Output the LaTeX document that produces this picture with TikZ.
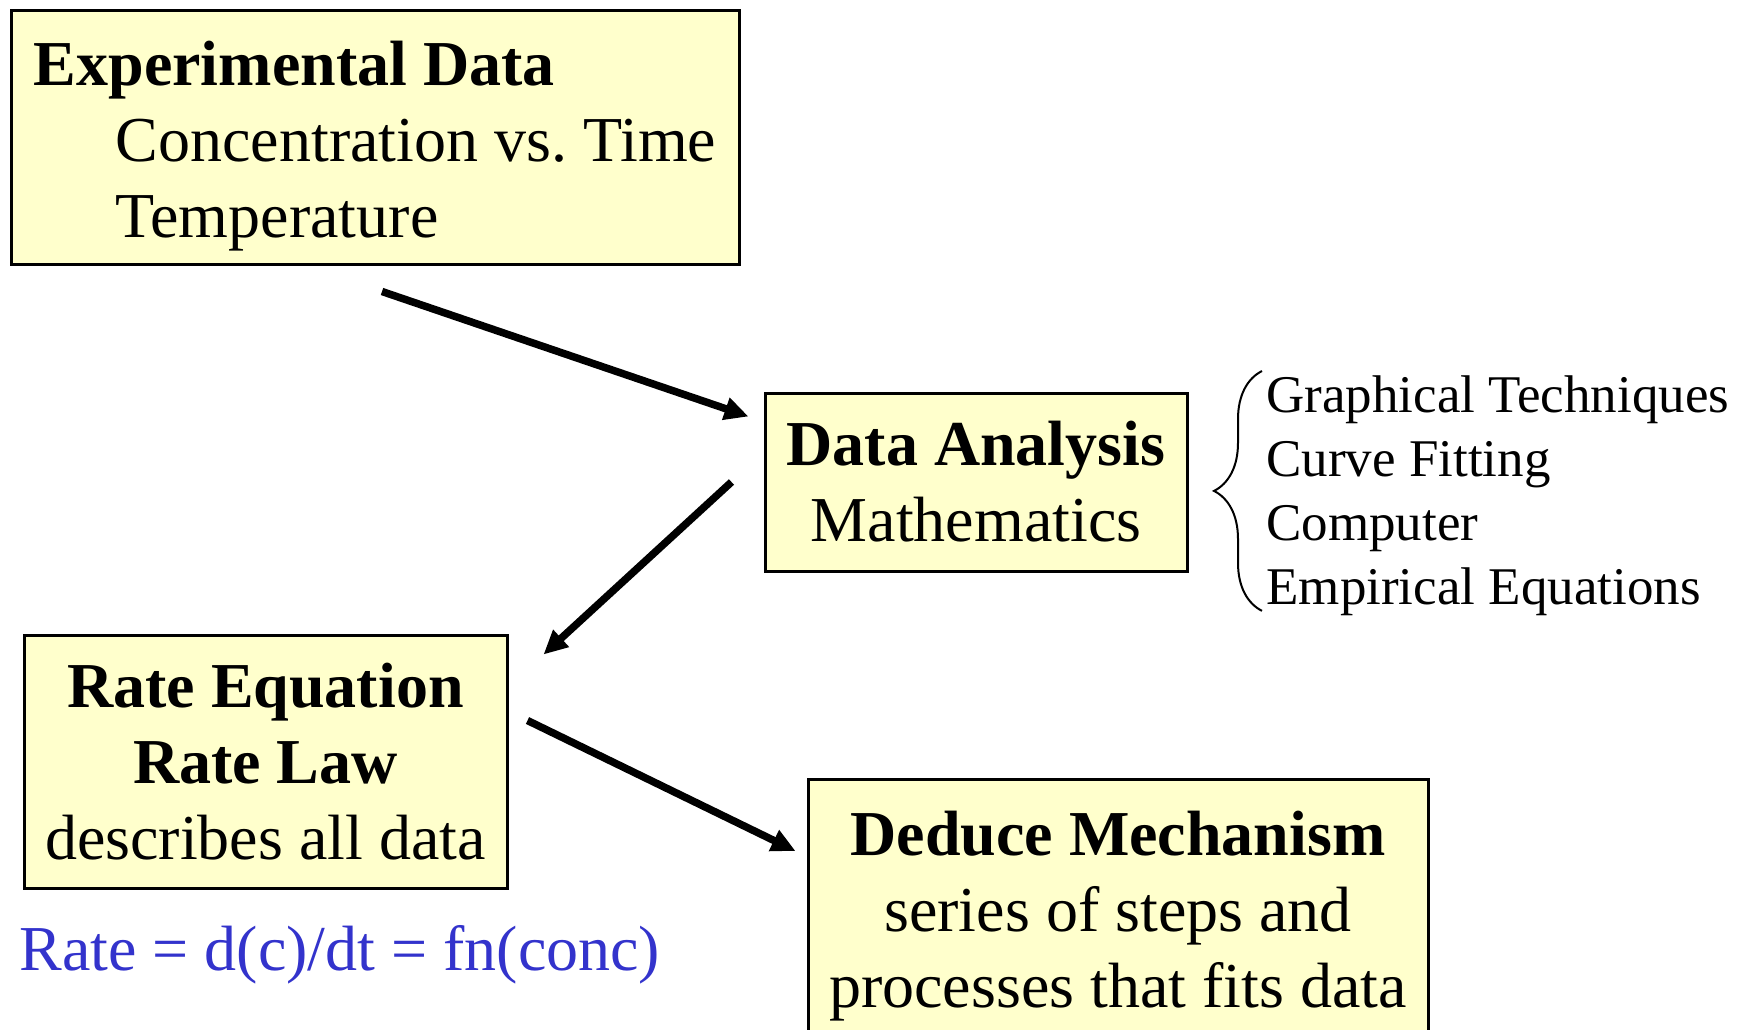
\documentclass[tikz,border=0pt]{standalone}
\usepackage{fontspec}
\setmainfont{Liberation Serif}
\usepackage{xcolor}
\usepackage{tikz}
\usetikzlibrary{positioning, arrows.meta, decorations.pathreplacing}
\definecolor{paleyellow}{HTML}{FFFFCC}
\definecolor{rateblue}{HTML}{3333CC}

\tikzset{
  stagebox/.style={fill=paleyellow, draw=black, line width=1.5pt, inner sep=0pt,
    align=center, font=\fontsize{32}{38}\selectfont},
  flow/.style={line width=3.75pt, -{Triangle[length=12pt, width=11pt]}},
  bracedeco/.style={decorate, decoration={brace, amplitude=24pt}, line width=1pt},
}

\begin{document}
\begin{tikzpicture}[x=0.5pt, y=-0.5pt]
    \useasboundingbox (0,0) rectangle (1741,1029);
    \node[stagebox, minimum width=364pt, minimum height=127pt, align=left]
      (expdata) at (375,137) {%
      \rule{0pt}{31.5pt}\textbf{Experimental Data}\\
      \hspace*{41pt}Concentration vs.\ Time\\
      \hspace*{41pt}Temperature};
    \node[stagebox, minimum width=211pt, minimum height=89pt]
      (analysis) at (976,482) {\textbf{Data Analysis}\\Mathematics};
    \node[stagebox, minimum width=241.5pt, minimum height=126.5pt]
      (rate) at (265.5,761.5) {\textbf{Rate Equation}\\\textbf{Rate Law}\\describes all data};
    \node[stagebox, minimum width=310pt, inner ysep=16pt, anchor=north]
      (mechanism) at (1118,778) {\textbf{Deduce Mechanism}\\series of steps and\\processes that fits data};
    \node[anchor=north west, inner sep=0pt, align=left, font=\fontsize{26.5}{32}\selectfont]
      (methods) at (1266,375) {Graphical Techniques\\Curve Fitting\\Computer\\Empirical Equations};
    \node[anchor=base west, inner sep=0pt, text=rateblue, font=\fontsize{32}{38}\selectfont]
      (ratelaw) at (19,970) {Rate = d(c)/dt = fn(conc)};
    % brace in front of the list of methods
    \draw[bracedeco] ([shift={(-4,-5)}]methods.south west) -- ([shift={(-4,-4)}]methods.north west);
    % flow between the stages
    \draw[flow] ([shift={(7,26)}]expdata.south) -- ([shift={(-15,25)}]analysis.north west);
    \draw[flow] ([shift={(-32,0)}]analysis.west) -- ([shift={(35,21)}]rate.north east);
    \draw[flow] ([shift={(19,87)}]rate.north east) -- ([shift={(-11,73)}]mechanism.north west);
\end{tikzpicture}
\end{document}
